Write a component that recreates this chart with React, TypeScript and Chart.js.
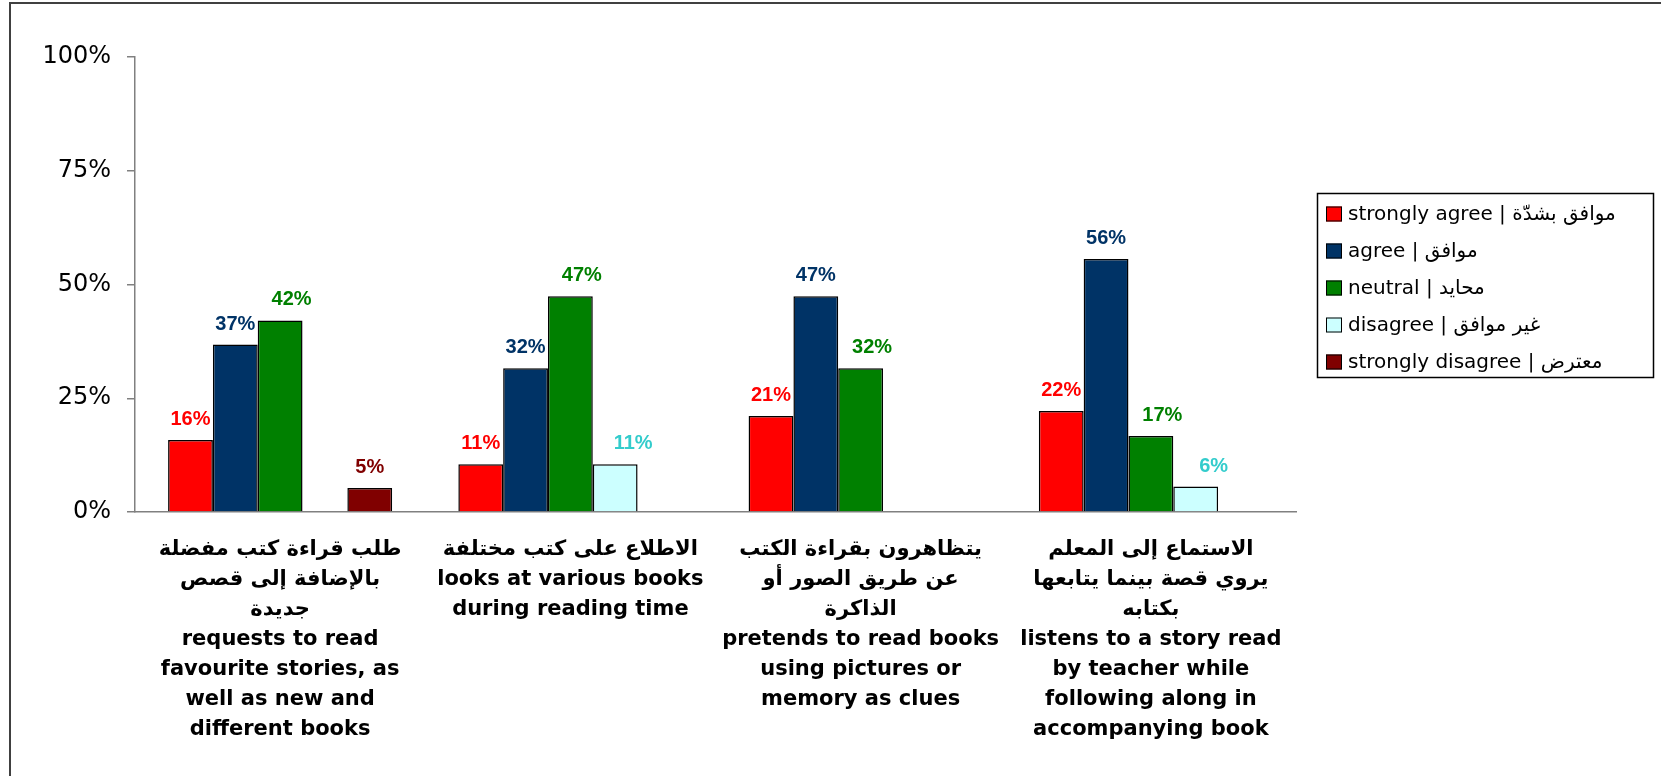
import React, { useEffect, useRef } from 'react';
import { Chart, registerables } from 'chart.js';

Chart.register(...registerables);

// ---- data ----
const categories: string[][] = [
  ['طلب قراءة كتب مفضلة', 'بالإضافة إلى قصص', 'جديدة', 'requests to read', 'favourite stories, as', 'well as new and', 'different books'],
  ['الاطلاع على كتب مختلفة', 'looks at various books', 'during reading time'],
  ['يتظاهرون بقراءة الكتب', 'عن طريق الصور أو', 'الذاكرة', 'pretends to read books', 'using pictures or', 'memory as clues'],
  ['الاستماع إلى المعلم', 'يروي قصة بينما يتابعها', 'بكتابه', 'listens to a story read', 'by teacher while', 'following along in', 'accompanying book'],
];
const seriesNames = [
  'strongly agree | موافق بشدّة',
  'agree | موافق',
  'neutral | محايد',
  'disagree | غير موافق',
  'strongly disagree | معترض',
];
const stronglyAgree = [15.8, 10.5, 21.1, 22.2];
const agree = [36.8, 31.6, 47.4, 55.6];
const neutral = [42.1, 47.4, 31.6, 16.7];
const disagree = [null, 10.5, null, 5.6];
const stronglyDisagree = [5.3, null, null, null];
const yTickValues = [0, 25, 50, 75, 100];

// ---- styles ----
const barColors = ['#FF0000', '#003366', '#008000', '#CCFFFF', '#800000'];
const labelColors = ['#FF0000', '#003366', '#008000', '#33CCCC', '#800000'];
const labelOffsets = [0, 0, 11.5, 18, 0];

const framePlugin = {
  id: 'frame',
  beforeDraw(chart: any) {
    const ctx = chart.ctx;
    ctx.save();
    ctx.fillStyle = '#FFFFFF';
    ctx.fillRect(0, 0, chart.width, chart.height);
    ctx.strokeStyle = '#404040';
    ctx.lineWidth = 2;
    ctx.strokeRect(10, 3, chart.width + 100, chart.height + 100);
    ctx.restore();
  },
};

const valueLabelPlugin = {
  id: 'valueLabels',
  afterDatasetsDraw(chart: any) {
    const ctx = chart.ctx;
    ctx.save();
    ctx.font = 'bold 20px "Liberation Sans", Arial, sans-serif';
    ctx.textAlign = 'center';
    ctx.textBaseline = 'alphabetic';
    chart.data.datasets.forEach((ds: any, di: number) => {
      const meta = chart.getDatasetMeta(di);
      meta.data.forEach((el: any, i: number) => {
        const v = ds.data[i];
        if (v === null || v === undefined) return;
        ctx.fillStyle = labelColors[di];
        ctx.fillText(Math.round(v) + '%', el.x + labelOffsets[di], el.y - 15);
      });
    });
    ctx.restore();
  },
};

const legendPlugin = {
  id: 'legendBox',
  afterDraw(chart: any) {
    const ctx = chart.ctx;
    const left = Math.round(chart.chartArea.right + 21);
    const top = 193;
    const w = 336;
    const h = 184;
    ctx.save();
    ctx.strokeStyle = '#000000';
    ctx.lineWidth = 1.5;
    ctx.strokeRect(left + 0.5, top + 0.5, w, h);
    ctx.font = '20px "DejaVu Sans", sans-serif';
    ctx.textBaseline = 'middle';
    ctx.textAlign = 'left';
    chart.data.datasets.forEach((ds: any, i: number) => {
      const cy = top + 21 + i * 37;
      ctx.fillStyle = ds.backgroundColor;
      ctx.fillRect(left + 9, cy - 7.5, 16, 15);
      ctx.strokeStyle = '#000000';
      ctx.lineWidth = 1;
      ctx.strokeRect(left + 9.5, cy - 7, 15, 14);
      ctx.fillStyle = '#000000';
      ctx.fillText(ds.label, left + 31, cy + 1);
    });
    ctx.restore();
  },
};

export default function App() {
  const canvasRef = useRef<HTMLCanvasElement | null>(null);

  useEffect(() => {
    if (!canvasRef.current) return;
    const series = [stronglyAgree, agree, neutral, disagree, stronglyDisagree];
    const chart = new Chart(canvasRef.current, {
      type: 'bar',
      data: {
        labels: categories,
        datasets: series.map((d, i) => ({
          label: seriesNames[i],
          data: d as any,
          backgroundColor: barColors[i],
          borderColor: '#000000',
          borderWidth: 1.5,
          categoryPercentage: 0.772,
          barPercentage: 1,
        })),
      },
      options: {
        responsive: false,
        animation: false,
        layout: { padding: { left: 0, right: 365, top: 57, bottom: 0 } },
        plugins: {
          legend: { display: false },
          tooltip: { enabled: false },
          title: { display: false },
        },
        scales: {
          x: {
            grid: { display: false, drawTicks: false },
            border: { display: true, color: '#808080', width: 1.5 },
            ticks: {
              color: '#000000',
              padding: 23,
              maxRotation: 0,
              autoSkip: false,
              font: { family: '"DejaVu Sans", sans-serif', size: 21, weight: 'bold', lineHeight: '30px' },
            },
            afterFit(scale: any) {
              scale.height = 264;
            },
          },
          y: {
            min: 0,
            max: 100,
            afterBuildTicks(scale: any) {
              scale.ticks = yTickValues.map((v) => ({ value: v }));
            },
            grid: { display: true, drawOnChartArea: false, drawTicks: true, tickLength: 8, color: '#808080', lineWidth: 1.5 },
            border: { display: true, color: '#808080', width: 1.5 },
            ticks: {
              color: '#000000',
              padding: 16,
              font: { family: '"DejaVu Sans", sans-serif', size: 24 },
              callback: (v: any) => v + '%',
            },
            afterFit(scale: any) {
              scale.width = 135;
            },
          },
        },
      },
      plugins: [framePlugin, valueLabelPlugin, legendPlugin],
    });
    return () => chart.destroy();
  }, []);

  return (
    <div style={{ position: 'fixed', left: 0, top: 0, width: 1661, height: 776, background: '#fff' }}>
      <canvas ref={canvasRef} width={1661} height={776} style={{ display: 'block' }} />
    </div>
  );
}
